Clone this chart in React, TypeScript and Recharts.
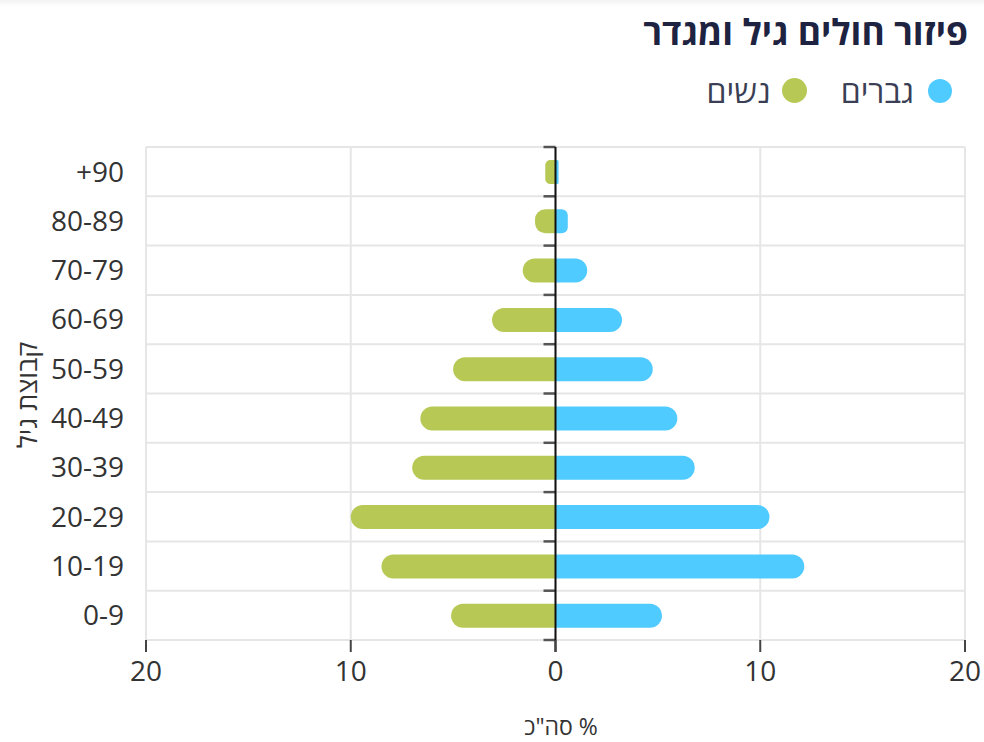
import React from 'react';
import { BarChart, Bar, XAxis, YAxis, CartesianGrid, ReferenceLine } from 'recharts';

const ageGroups = ['+90', '80-89', '70-79', '60-69', '50-59', '40-49', '30-39', '20-29', '10-19', '0-9'];
const women = [0.5, 1.0, 1.6, 3.1, 5.0, 6.6, 7.0, 10.0, 8.5, 5.1];
const men = [0.15, 0.6, 1.55, 3.25, 4.75, 5.95, 6.8, 10.45, 12.15, 5.2];
const xTicks = [-20, -10, 0, 10, 20];

const title = 'פיזור חולים גיל ומגדר';
const menLabel = 'גברים';
const womenLabel = 'נשים';
const yLabel = 'קבוצת גיל';
const xLabel = '% סה"כ';

const BLUE = '#50CBFF';
const GREEN = '#B7C954';
const FONT = '"Open Sans", "DejaVu Sans", sans-serif';

const data = ageGroups.map((g, i) => ({ group: g, women: -women[i], men: men[i] }));

const CenterAxis = (props: any) => {
  const { x1, y1, y2 } = props;
  const n = ageGroups.length;
  const top = Math.min(y1, y2);
  const bottom = Math.max(y1, y2);
  const marks = [];
  for (let i = 0; i <= n; i++) {
    const y = top + ((bottom - top) * i) / n;
    marks.push(<line key={i} x1={x1 - 12} x2={x1} y1={y} y2={y} stroke="#555" strokeWidth={2.5} />);
  }
  return (
    <g>
      {marks}
      <line x1={x1} x2={x1} y1={top} y2={bottom + 12} stroke="#111" strokeWidth={2} />
    </g>
  );
};

export default function App() {
  return (
    <div style={{ position: 'absolute', left: 0, top: 0, width: 984, height: 742, background: '#fff', fontFamily: FONT, overflow: 'hidden' }}>
      <div style={{ position: 'absolute', left: 0, top: 0, width: 984, height: 6, background: 'linear-gradient(#f2f2f2, #fff)' }} />
      <div style={{ position: 'absolute', right: 16, top: 7, direction: 'rtl', fontSize: 35.5, fontWeight: 700, color: '#1D2340', whiteSpace: 'nowrap' }}>
        {title}
      </div>
      <div style={{ position: 'absolute', right: 32, top: 69, direction: 'rtl', display: 'flex', alignItems: 'center', fontSize: 32, color: '#3A3F55', whiteSpace: 'nowrap' }}>
        <span style={{ width: 24, height: 24, borderRadius: '50%', background: BLUE, display: 'inline-block', marginLeft: 14 }} />
        <span>{menLabel}</span>
        <span style={{ width: 25, height: 25, borderRadius: '50%', background: GREEN, display: 'inline-block', marginLeft: 11, marginRight: 34 }} />
        <span>{womenLabel}</span>
      </div>
      <div style={{ position: 'absolute', left: 26, top: 395, transform: 'translate(-50%, -50%) rotate(-90deg)', fontSize: 27, color: '#333', whiteSpace: 'nowrap', direction: 'rtl' }}>
        {yLabel}
      </div>
      <div style={{ position: 'absolute', left: 561, top: 726, transform: 'translate(-50%, -50%)', fontSize: 23, color: '#333', whiteSpace: 'nowrap', direction: 'rtl' }}>
        {xLabel}
      </div>
      <div style={{ position: 'absolute', left: 0, top: 0 }}>
        <BarChart
          width={984}
          height={742}
          data={data}
          layout="vertical"
          stackOffset="sign"
          margin={{ top: 147, right: 19, bottom: 42, left: 46 }}
        >
          <CartesianGrid
            stroke="#e6e6e6"
            strokeWidth={2}
            horizontalCoordinatesGenerator={({ offset }: any) =>
              Array.from({ length: ageGroups.length + 1 }, (_, i) => offset.top + (offset.height * i) / ageGroups.length)
            }
          />
          <XAxis
            type="number"
            domain={[-20, 20]}
            ticks={xTicks}
            tickFormatter={(v: number) => String(Math.abs(v))}
            axisLine={false}
            tickSize={12}
            tickLine={{ stroke: '#444', strokeWidth: 2 }}
            tickMargin={9}
            height={60}
            tick={{ fontSize: 28, fill: '#333', fontFamily: FONT }}
          />
          <YAxis
            type="category"
            dataKey="group"
            width={100}
            axisLine={false}
            tickLine={false}
            tickSize={0}
            tickMargin={22}
            tick={{ fontSize: 28, fill: '#333', fontFamily: FONT }}
          />
          <Bar dataKey="women" stackId="a" fill={GREEN} barSize={24} radius={[0, 12, 12, 0]} isAnimationActive={false} />
          <Bar dataKey="men" stackId="a" fill={BLUE} barSize={24} radius={[0, 12, 12, 0]} isAnimationActive={false} />
          <ReferenceLine x={0} stroke="#111" shape={CenterAxis} />
        </BarChart>
      </div>
    </div>
  );
}
